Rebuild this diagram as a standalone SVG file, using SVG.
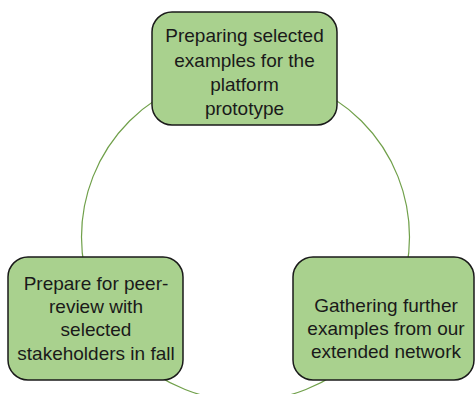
<svg xmlns="http://www.w3.org/2000/svg" width="475" height="394" viewBox="0 0 475 394">
<style>
.box{fill:#A9D18E;stroke:#1a1a1a;stroke-width:1.5}
.t{font-family:"Liberation Sans",Arial,sans-serif;font-size:19px;fill:#1a1a1a;text-anchor:middle}
.arc{fill:none;stroke:#70A04A;stroke-width:1.2}
</style>
<rect width="475" height="394" fill="#ffffff"/>
<g id="connectors">
<circle class="arc" cx="245.5" cy="237" r="164"/>
</g>
<g id="node-top">
<rect class="box" x="152" y="12" width="185" height="113" rx="20"/>
<text class="t" x="244.5" y="42">Preparing selected</text>
<text class="t" x="244.5" y="67">examples for the</text>
<text class="t" x="244.5" y="91">platform</text>
<text class="t" x="244.5" y="115">prototype</text>
</g>
<g id="node-right">
<rect class="box" x="293" y="257" width="181" height="123" rx="20"/>
<text class="t" x="386" y="312">Gathering further</text>
<text class="t" x="386" y="335">examples from our</text>
<text class="t" x="386" y="358">extended network</text>
</g>
<g id="node-left">
<rect class="box" x="8" y="257" width="175" height="123" rx="20"/>
<text class="t" x="96" y="290">Prepare for peer-</text>
<text class="t" x="96" y="313">review with</text>
<text class="t" x="96" y="336">selected</text>
<text class="t" x="96" y="360">stakeholders in fall</text>
</g>
</svg>
